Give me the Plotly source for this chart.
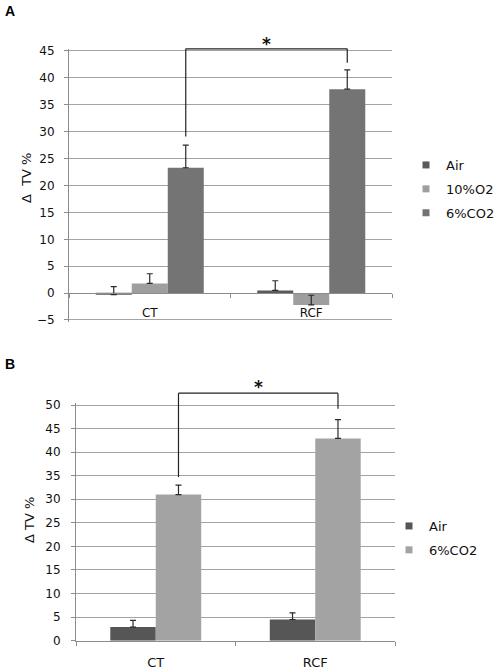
import plotly.graph_objects as go

# ---------------- data ----------------
categories = ["CT", "RCF"]

a_names = ["Air", "10%O2", "6%CO2"]
a_air = [-0.3, 0.5]
a_o2 = [1.8, -2.2]
a_co2 = [23.3, 37.9]
a_air_err = [1.5, 1.8]
a_o2_err = [1.8, 1.8]
a_co2_err = [4.2, 3.6]

b_names = ["Air", "6%CO2"]
b_air = [2.9, 4.5]
b_co2 = [31.0, 42.9]
b_air_err = [1.4, 1.4]
b_co2_err = [2.0, 4.0]

a_yticks = [-5, 0, 5, 10, 15, 20, 25, 30, 35, 40, 45]
b_yticks = [0, 5, 10, 15, 20, 25, 30, 35, 40, 45, 50]

# ---------------- layout constants ----------------
W, H = 494, 671
FONT = "DejaVu Sans"
GRID = "#a3a3a3"
AX = "#8c8c8c"
ERR = "#2a2a2a"

a_colors = ["#5a5a5a", "#9e9e9e", "#747474"]
b_colors = ["#565656", "#a3a3a3"]

# panel A pixel geometry
A_L, A_R = 69, 392
A_TOP, A_BOT = 51, 320          # pixel of 45 and -5
A_RANGE = [-5.4, 45.4]
a_k = (A_BOT - A_TOP) / 50.0
a_dom_y = [1 - (A_BOT + 0.4 * a_k) / H, 1 - (A_TOP - 0.4 * a_k) / H]

# panel B pixel geometry
B_L, B_R = 76, 395
B_TOP, B_BOT = 405, 640.7       # pixel of 50 and 0
B_RANGE = [0, 50.4]
b_k = (B_BOT - B_TOP) / 50.0
b_dom_y = [1 - B_BOT / H, 1 - (B_TOP - 0.4 * b_k) / H]


def to_paper(v, dom, rng):
    return dom[0] + (v - rng[0]) / (rng[1] - rng[0]) * (dom[1] - dom[0])


a_w = 0.223
b_w = 0.285

fig = go.Figure()

a_vals = [a_air, a_o2, a_co2]
a_errs = [a_air_err, a_o2_err, a_co2_err]
for i, (nm, v, e, c) in enumerate(zip(a_names, a_vals, a_errs, a_colors)):
    off = (i - len(a_names) / 2) * a_w
    fig.add_trace(go.Bar(
        x=categories, y=v, name=nm, width=a_w, offset=off,
        marker=dict(color=c, line=dict(width=0)),
        error_y=dict(type="data", array=e, arrayminus=[0] * len(e), symmetric=False,
                     color=ERR, thickness=1.2, width=3),
        xaxis="x", yaxis="y", showlegend=False))
    fig.add_trace(go.Scatter(
        x=[None], y=[None], mode="markers", name=nm,
        marker=dict(symbol="square", size=7, color=c),
        legend="legend", legendgroup="a" + nm, xaxis="x", yaxis="y"))

b_vals = [b_air, b_co2]
b_errs = [b_air_err, b_co2_err]
for i, (nm, v, e, c) in enumerate(zip(b_names, b_vals, b_errs, b_colors)):
    off = (i - len(b_names) / 2) * b_w
    fig.add_trace(go.Bar(
        x=categories, y=v, name=nm, width=b_w, offset=off,
        marker=dict(color=c, line=dict(width=0)),
        error_y=dict(type="data", array=e, arrayminus=[0] * len(e), symmetric=False,
                     color=ERR, thickness=1.2, width=3),
        xaxis="x2", yaxis="y2", showlegend=False))
    fig.add_trace(go.Scatter(
        x=[None], y=[None], mode="markers", name=nm,
        marker=dict(symbol="square", size=7, color=c),
        legend="legend2", legendgroup="b" + nm, xaxis="x2", yaxis="y2"))

# significance brackets
shapes = []
annotations = []

# A: CT 6%CO2 vs RCF 6%CO2
a_off = (2 - len(a_names) / 2) * a_w + a_w / 2
xa0, xa1 = 0 + a_off, 1 + a_off
ya0 = a_co2[0] + a_co2_err[0] + 1.6
ya1 = a_co2[1] + a_co2_err[1] + 1.3
ytop = 45.4
pa = lambda v: to_paper(v, a_dom_y, A_RANGE)
for (x0, y0, x1, y1) in [(xa0, ya0, xa0, ytop), (xa0, ytop, xa1, ytop), (xa1, ytop, xa1, ya1)]:
    shapes.append(dict(type="line", xref="x", yref="paper", x0=x0, x1=x1,
                       y0=pa(y0), y1=pa(y1), line=dict(color="#222", width=1.2)))
annotations.append(dict(text="<b>*</b>", x=(xa0 + xa1) / 2, xref="x", y=pa(ytop), yref="paper",
                        yanchor="bottom", yshift=-7, showarrow=False,
                        font=dict(family=FONT, size=17, color="#111")))

# B: CT 6%CO2 vs RCF 6%CO2
b_off = (1 - len(b_names) / 2) * b_w + b_w / 2
xb0, xb1 = 0 + b_off, 1 + b_off
yb0 = b_co2[0] + b_co2_err[0] + 1.7
yb1 = b_co2[1] + b_co2_err[1] + 2.3
ybtop = 52.5
pb = lambda v: to_paper(v, b_dom_y, B_RANGE)
for (x0, y0, x1, y1) in [(xb0, yb0, xb0, ybtop), (xb0, ybtop, xb1, ybtop), (xb1, ybtop, xb1, yb1)]:
    shapes.append(dict(type="line", xref="x2", yref="paper", x0=x0, x1=x1,
                       y0=pb(y0), y1=pb(y1), line=dict(color="#222", width=1.2)))
annotations.append(dict(text="<b>*</b>", x=(xb0 + xb1) / 2, xref="x2", y=pb(ybtop), yref="paper",
                        yanchor="bottom", yshift=-6, showarrow=False,
                        font=dict(family=FONT, size=17, color="#111")))

# panel labels and axis titles
annotations += [
    dict(text="<b>A</b>", x=10 / W, y=1 - 11.5 / H, xref="paper", yref="paper",
         xanchor="center", yanchor="middle", showarrow=False,
         font=dict(family="Liberation Sans", size=14, color="#000")),
    dict(text="<b>B</b>", x=10 / W, y=1 - 363.5 / H, xref="paper", yref="paper",
         xanchor="center", yanchor="middle", showarrow=False,
         font=dict(family="Liberation Sans", size=14, color="#000")),
    dict(text="Δ\u00a0 TV %", x=26 / W, y=1 - 178 / H, xref="paper", yref="paper",
         textangle=-90, xanchor="center", yanchor="middle", showarrow=False,
         font=dict(family=FONT, size=13, color="#111")),
    dict(text="Δ TV %", x=29 / W, y=1 - 520 / H, xref="paper", yref="paper",
         textangle=-90, xanchor="center", yanchor="middle", showarrow=False,
         font=dict(family=FONT, size=13, color="#111")),
]

tickfont = dict(family=FONT, size=12, color="#111")

fig.update_layout(
    width=W, height=H,
    margin=dict(l=0, r=0, t=0, b=0, pad=0, autoexpand=False),
    paper_bgcolor="white", plot_bgcolor="white",
    barmode="overlay",
    font=dict(family=FONT, color="#111"),
    xaxis=dict(domain=[A_L / W, A_R / W], anchor="free",
               position=pa(0), type="category", range=[-0.5, 1.5],
               showline=True, linecolor=AX, linewidth=1,
               ticks="outside", tickson="boundaries", ticklen=4, tickcolor=AX,
               showgrid=False, tickfont=tickfont, ticklabelstandoff=8),
    yaxis=dict(domain=a_dom_y, anchor="x", range=A_RANGE, tickvals=a_yticks,
               showgrid=True, gridcolor=GRID, gridwidth=1, zeroline=False,
               showline=True, linecolor=AX, ticks="outside", ticklen=4, tickcolor=AX,
               tickfont=tickfont, ticklabelstandoff=7),
    xaxis2=dict(domain=[B_L / W, B_R / W], anchor="y2", type="category", range=[-0.5, 1.5],
                showline=True, linecolor=AX, linewidth=1,
                ticks="outside", tickson="boundaries", ticklen=4, tickcolor=AX,
                showgrid=False, tickfont=dict(family=FONT, size=13, color="#111"),
                ticklabelstandoff=10),
    yaxis2=dict(domain=b_dom_y, anchor="x2", range=B_RANGE, tickvals=b_yticks,
                showgrid=True, gridcolor=GRID, gridwidth=1, zeroline=False,
                showline=True, linecolor=AX, ticks="outside", ticklen=4, tickcolor=AX,
                tickfont=tickfont, ticklabelstandoff=8),
    legend=dict(x=406 / W, y=1 - 150 / H, xanchor="left", yanchor="top",
                font=dict(family=FONT, size=13, color="#111"),
                tracegroupgap=4, itemwidth=30, bgcolor="rgba(0,0,0,0)"),
    legend2=dict(x=389 / W, y=1 - 511 / H, xanchor="left", yanchor="top",
                 font=dict(family=FONT, size=13, color="#111"),
                 tracegroupgap=4, itemwidth=30, bgcolor="rgba(0,0,0,0)"),
    shapes=shapes,
    annotations=annotations,
)

fig.write_html("out.html", config={"displayModeBar": False},
               post_script="document.body.style.margin='0';document.body.style.padding='0';")
